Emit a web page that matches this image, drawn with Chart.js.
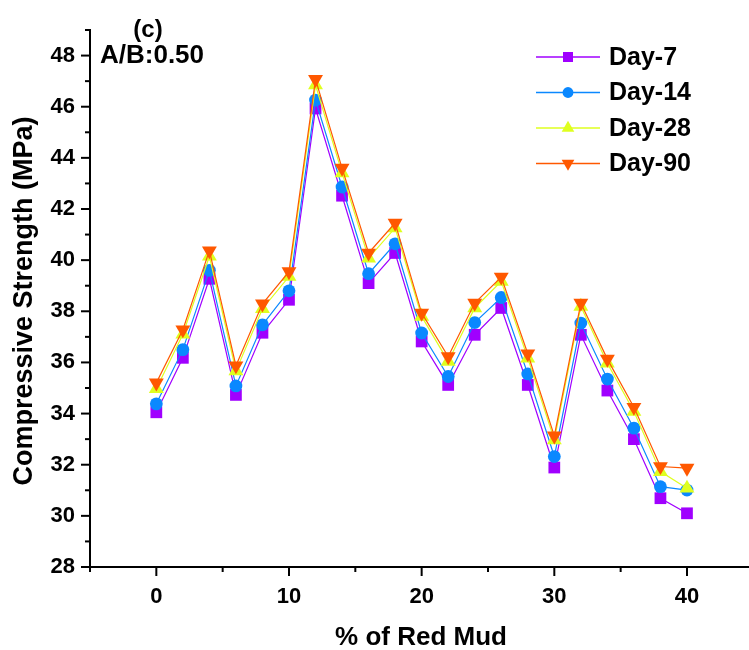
<!DOCTYPE html>
<html lang="en">
<head>
<meta charset="UTF-8">
<title>Compressive Strength vs Red Mud</title>
<script src="https://cdn.jsdelivr.net/npm/chart.js"></script>
<style>
    body {
        margin: 0;
        background: #fff;
    }
    #grafico {
        display: block;
    }
</style>
</head>
<body>
<canvas id="grafico" width="749" height="650"></canvas>
<script>
    // % de lama vermelha
    const redMud = [0, 2, 4, 6, 8, 10, 12, 14, 16, 18, 20, 22, 24, 26, 28, 30, 32, 34, 36, 38, 40];

    const day7 = [34.05, 36.18, 39.27, 34.73, 37.16, 38.45, 45.93, 42.52, 39.10, 40.28, 36.82, 35.12, 37.08, 38.13, 35.12, 31.89, 37.08, 34.90, 33.00, 30.69, 30.10];
    const day14 = [34.38, 36.50, 39.60, 35.08, 37.47, 38.80, 46.26, 42.86, 39.47, 40.64, 37.15, 35.45, 37.56, 38.54, 35.55, 32.32, 37.54, 35.35, 33.43, 31.14, 31.01];
    const day28 = [34.97, 37.10, 40.15, 35.67, 38.10, 39.36, 46.85, 43.41, 40.08, 41.26, 37.80, 36.04, 38.13, 39.17, 36.17, 32.97, 38.19, 35.97, 34.08, 31.73, 31.08];
    const day90 = [35.20, 37.28, 40.37, 35.87, 38.29, 39.55, 47.07, 43.60, 40.28, 41.45, 37.93, 36.23, 38.32, 39.34, 36.34, 33.13, 38.32, 36.13, 34.25, 31.93, 31.87];

    const seriesNames = ['Day-7', 'Day-14', 'Day-28', 'Day-90'];
    const xTicks = [-5, 0, 5, 10, 15, 20, 25, 30, 35, 40];
    const yTicks = [28, 29, 30, 31, 32, 33, 34, 35, 36, 37, 38, 39, 40, 41, 42, 43, 44, 45, 46, 47, 48, 49];

    const fonte = "'Liberation Sans', Arial, sans-serif";

    function pontos(valores) {
        return redMud.map((x, i) => ({ x: x, y: valores[i] }));
    }

    const estilos = [
        { cor: '#a000ff', ponto: 'rect', raio: 8.3, rot: 0 },
        { cor: '#0a88ff', ponto: 'circle', raio: 6.4, rot: 0 },
        { cor: '#dfff1f', ponto: 'triangle', raio: 8.6, rot: 0 },
        { cor: '#ff5800', ponto: 'triangle', raio: 8.6, rot: 180 }
    ];

    const valores = [day7, day14, day28, day90];

    const datasets = valores.map((v, i) => ({
        label: seriesNames[i],
        data: pontos(v),
        borderColor: estilos[i].cor,
        backgroundColor: estilos[i].cor,
        borderWidth: 1.2,
        pointStyle: estilos[i].ponto,
        pointRadius: estilos[i].raio,
        pointRotation: estilos[i].rot,
        pointBorderWidth: 0,
        tension: 0,
        order: 3 - i // Day-90 por cima
    }));

    // desenha ticks, titulos, anotacoes e legenda
    const extras = {
        id: 'extras',
        afterDraw(chart) {
            const ctx = chart.ctx;
            const sx = chart.scales.x;
            const sy = chart.scales.y;
            const area = chart.chartArea;
            ctx.save();
            ctx.strokeStyle = '#000';
            ctx.lineWidth = 2;

            xTicks.forEach(v => {
                const px = sx.getPixelForValue(v);
                const len = v % 10 === 0 ? 9 : 5;
                ctx.beginPath();
                ctx.moveTo(px, area.bottom);
                ctx.lineTo(px, area.bottom + len);
                ctx.stroke();
            });
            yTicks.forEach(v => {
                const py = sy.getPixelForValue(v);
                const len = v % 2 === 0 ? 9 : 5;
                ctx.beginPath();
                ctx.moveTo(area.left, py);
                ctx.lineTo(area.left - len, py);
                ctx.stroke();
            });

            ctx.fillStyle = '#000';
            ctx.font = 'bold 26px ' + fonte;
            ctx.textAlign = 'center';
            ctx.textBaseline = 'alphabetic';
            ctx.fillText('% of Red Mud', 421, 645);

            ctx.save();
            ctx.translate(25, 301);
            ctx.rotate(-Math.PI / 2);
            ctx.font = 'bold 27px ' + fonte;
            ctx.textBaseline = 'middle';
            ctx.fillText('Compressive Strength (MPa)', 0, 0);
            ctx.restore();

            ctx.font = 'bold 24px ' + fonte;
            ctx.textAlign = 'center';
            ctx.fillText('(c)', 148, 37);
            ctx.font = 'bold 26px ' + fonte;
            ctx.textAlign = 'left';
            ctx.fillText('A/B:0.50', 100, 63);

            // legenda
            chart.data.datasets.forEach((ds, i) => {
                const y = 57 + i * 35.5;
                ctx.strokeStyle = ds.borderColor;
                ctx.lineWidth = 1.5;
                ctx.beginPath();
                ctx.moveTo(536, y);
                ctx.lineTo(600, y);
                ctx.stroke();
                ctx.fillStyle = ds.backgroundColor;
                Chart.helpers.drawPoint(ctx, {
                    pointStyle: ds.pointStyle,
                    radius: ds.pointRadius * 0.85,
                    rotation: ds.pointRotation,
                    borderWidth: 0
                }, 568, y);
                ctx.fillStyle = '#000';
                ctx.font = 'bold 25px ' + fonte;
                ctx.textAlign = 'left';
                ctx.textBaseline = 'middle';
                ctx.fillText(ds.label, 609, y + 1);
            });
            ctx.restore();
        }
    };

    const config = {
        type: 'line',
        data: { datasets: datasets },
        options: {
            responsive: false,
            animation: false,
            layout: { autoPadding: false, padding: { top: 30, right: 1, left: 0, bottom: 0 } },
            plugins: {
                legend: { display: false },
                tooltip: { enabled: false }
            },
            scales: {
                x: {
                    type: 'linear',
                    min: -5,
                    max: 44.6,
                    afterBuildTicks: s => { s.ticks = xTicks.map(v => ({ value: v })); },
                    afterFit: s => { s.height = 83; s.paddingLeft = 0; s.paddingRight = 0; },
                    grid: { display: false, drawTicks: false },
                    border: { display: true, color: '#000', width: 2 },
                    ticks: {
                        color: '#000',
                        padding: 17,
                        maxRotation: 0,
                        autoSkip: false,
                        font: { family: fonte, size: 22, weight: 'bold' },
                        callback: v => (v >= 0 && v % 10 === 0 ? v : '')
                    }
                },
                y: {
                    min: 28,
                    max: 49,
                    afterBuildTicks: s => { s.ticks = yTicks.map(v => ({ value: v })); },
                    afterFit: s => { s.width = 90; s.paddingTop = 0; s.paddingBottom = 0; },
                    grid: { display: false, drawTicks: false },
                    border: { display: true, color: '#000', width: 2 },
                    ticks: {
                        color: '#000',
                        padding: 15,
                        autoSkip: false,
                        font: { family: fonte, size: 22, weight: 'bold' },
                        callback: v => (v % 2 === 0 ? v : '')
                    }
                }
            }
        },
        plugins: [extras]
    };

    const grafico = new Chart(document.getElementById('grafico'), config);
</script>
</body>
</html>
